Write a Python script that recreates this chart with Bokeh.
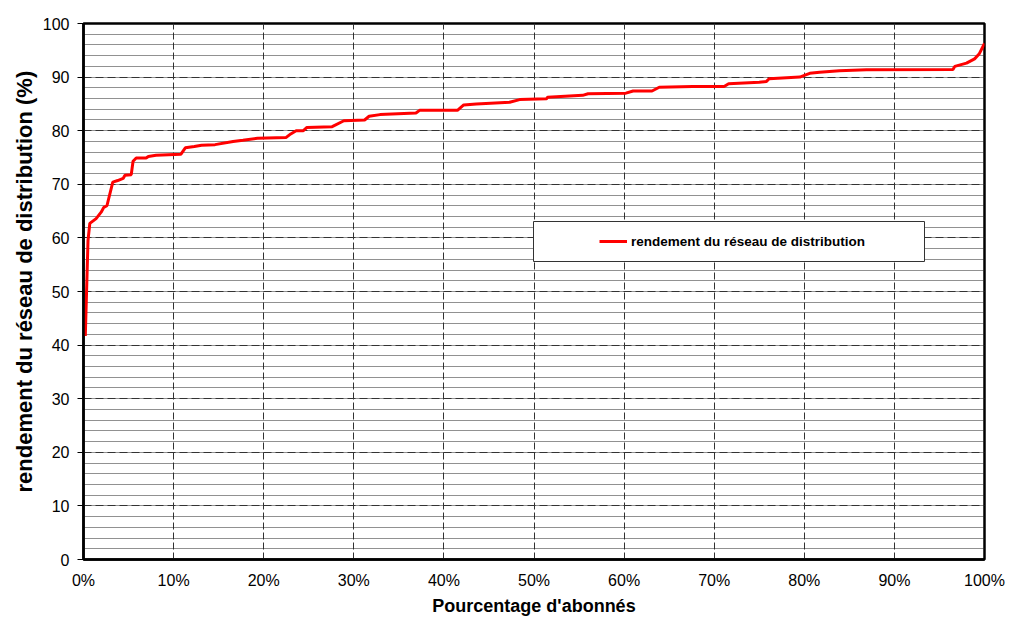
from bokeh.plotting import figure
from bokeh.models import (SingleIntervalTicker, PrintfTickFormatter, Range1d,
                          Legend, LegendItem, BoxAnnotation, Title)
from bokeh.embed import file_html
from bokeh.resources import INLINE

# Percentage of subscribers (x) vs network efficiency (y)
pct_abonnes = [0.2, 0.5, 0.7, 1.4, 1.96, 2.25, 2.6, 3.25, 3.8, 4.4, 4.6, 5.3, 5.5,
               5.85, 6.95, 7.2, 8.05, 10.8, 11.3, 12.3, 13.1, 14.6, 16.6, 17.7,
               19.3, 22.5, 23.0, 23.6, 24.4, 24.8, 27.6, 28.9, 31.2, 31.7, 32.9,
               36.9, 37.3, 41.5, 42.2, 43.6, 47.3, 48.4, 51.4, 51.5, 55.4, 56.0,
               60.2, 61.0, 63.1, 63.9, 67.6, 71.1, 71.6, 75.0, 75.8, 76.1, 79.5,
               80.6, 81.7, 83.9, 86.9, 96.5, 96.7, 98.0, 98.9, 99.4, 100.0]
rendement = [41.7, 59.5, 62.7, 63.6, 64.8, 65.7, 66.0, 70.4, 70.7, 71.1, 71.7, 71.8, 74.3,
             74.9, 74.9, 75.2, 75.4, 75.6, 76.8, 77.05, 77.3, 77.4, 78.0, 78.2,
             78.6, 78.75, 79.4, 80.0, 80.0, 80.6, 80.75, 81.85, 82.0, 82.7, 83.0,
             83.3, 83.8, 83.8, 84.8, 85.0, 85.3, 85.8, 85.95, 86.25, 86.6, 86.9,
             87.0, 87.4, 87.4, 88.1, 88.25, 88.25, 88.75, 89.05, 89.2, 89.7, 90.0,
             90.7, 90.9, 91.2, 91.35, 91.4, 92.0, 92.6, 93.4, 94.3, 96.3]
serie_label = "rendement du réseau de distribution"
x_title = "Pourcentage d'abonnés"
y_title = "rendement du réseau de distribution (%)"

FONT = "Liberation Sans"

p = figure(width=1007, height=617, output_backend="svg", toolbar_location=None,
           x_range=Range1d(0, 100), y_range=Range1d(0, 100),
           min_border_left=83, min_border_right=23, min_border_top=23,
           min_border_bottom=58)
p.frame_width = 901
p.frame_height = 536

p.background_fill_color = "white"
p.border_fill_color = "white"
p.outline_line_color = "black"
p.outline_line_width = 2.5
p.outline_line_alpha = 1

# Axes
p.xaxis.ticker = SingleIntervalTicker(interval=10, num_minor_ticks=0)
p.yaxis.ticker = SingleIntervalTicker(interval=10, num_minor_ticks=5)
p.xaxis.formatter = PrintfTickFormatter(format="%d%%")
for ax in (p.xaxis, p.yaxis):
    ax.axis_line_color = "black"
    ax.axis_line_width = 2.5
    ax.major_label_text_font = FONT
    ax.major_label_text_font_size = "16px"
    ax.major_label_text_color = "black"
    ax.axis_label_text_font = FONT
    ax.axis_label_text_font_style = "bold"
    ax.axis_label_text_color = "black"
    ax.minor_tick_line_color = None
p.xaxis.major_tick_line_color = None
p.xaxis.major_tick_out = 0
p.xaxis.major_tick_in = 0
p.xaxis.major_label_standoff = 12
p.xaxis.axis_label = x_title
p.xaxis.axis_label_text_font_size = "18px"
p.xaxis.axis_label_standoff = 4
p.yaxis.major_tick_line_color = "black"
p.yaxis.major_tick_out = 6
p.yaxis.major_tick_in = 0
p.yaxis.major_label_standoff = 8

# Y-axis title (side title, starting a little above the bottom of the frame)
ytitle = Title(text=y_title, align="left", offset=67, standoff=6,
               text_font=FONT, text_font_style="bold", text_font_size="22px",
               text_color="black")
p.add_layout(ytitle, "left")

# Grids
p.xgrid.grid_line_color = "#333333"
p.xgrid.grid_line_dash = "7 3"
p.xgrid.grid_line_width = 1
p.ygrid.grid_line_color = "#333333"
p.ygrid.grid_line_dash = "8 4"
p.ygrid.grid_line_width = 1
p.ygrid.minor_grid_line_color = "#222222"
p.ygrid.minor_grid_line_dash = "1 1"
p.ygrid.minor_grid_line_width = 1

# Curve
line = p.line(pct_abonnes, rendement, line_color="#ff0000", line_width=3)

# Legend frame
box = BoxAnnotation(left=450, right=841, bottom=298, top=338,
                    left_units="screen", right_units="screen",
                    bottom_units="screen", top_units="screen",
                    fill_color="white", fill_alpha=1,
                    line_color="#333333", line_width=1, line_alpha=1)
p.add_layout(box)

legend = Legend(items=[LegendItem(label=serie_label, renderers=[line])],
                location=(516, 308), padding=0, margin=0, spacing=0,
                glyph_width=28, glyph_height=20, label_height=20,
                label_standoff=4, background_fill_alpha=0,
                border_line_color=None,
                label_text_font=FONT, label_text_font_style="bold",
                label_text_font_size="13.5px", label_text_color="black")
p.add_layout(legend, "center")

open("out.html", "w").write(file_html(p, INLINE))
